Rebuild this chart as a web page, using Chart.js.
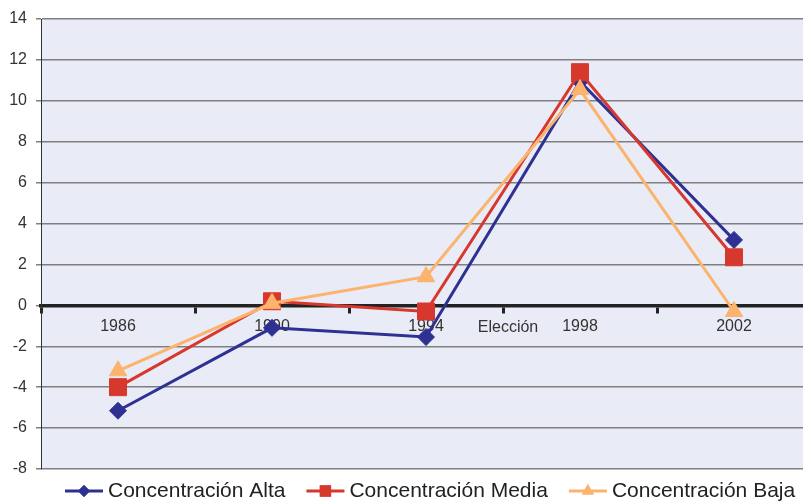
<!DOCTYPE html>
<html>
<head>
<meta charset="utf-8">
<script src="https://cdn.jsdelivr.net/npm/chart.js@4/dist/chart.umd.min.js"></script>
<style>
  html, body { margin: 0; padding: 0; overflow: hidden; background: #fff; width: 803px; height: 502px; }
  #wrap { width: 824px; height: 502px; overflow: visible; }
  canvas { display: block; width: 824px; height: 502px; }
</style>
</head>
<body>
<div id="wrap"><canvas id="chart" width="824" height="502"></canvas></div>
<script>
// Election years (category axis) and the axis caption shown between 1994 and 1998
const categories = ['1986', '1990', '1994', '1998', '2002'];
const axisCaption = 'Elección';

// Value axis range
const yMin = -8;
const yMax = 14;
const yStep = 2;

// Series values per election
const seriesNames = ['Concentración Alta', 'Concentración Media', 'Concentración Baja'];
const altaValues  = [-5.15, -1.1, -1.55, 10.95, 3.2];
const mediaValues = [-4.0, 0.2, -0.3, 11.4, 2.35];
const bajaValues  = [-3.2, 0.1, 1.4, 10.55, -0.3];

const FONT = '"Liberation Sans", Arial, Helvetica, sans-serif';
const colors = { alta: '#2e3192', media: '#d7382d', baja: '#fbb36d' };

// Lavender plot background
const plotBackground = {
  id: 'plotBackground',
  beforeDraw(chart) {
    const { ctx, chartArea: a } = chart;
    ctx.save();
    ctx.fillStyle = '#e9ecf6';
    ctx.fillRect(a.left, a.top, a.right - a.left, a.bottom - a.top);
    ctx.restore();
  }
};

// Axis caption drawn in line with the category labels
const axisCaptionPlugin = {
  id: 'axisCaption',
  afterDraw(chart) {
    const { ctx } = chart;
    const x = chart.scales.x, y = chart.scales.y;
    const cx = (x.getPixelForValue(2) + x.getPixelForValue(3)) / 2 + 5;
    const cy = y.getPixelForValue(0) + 22;
    ctx.save();
    ctx.font = '16px ' + FONT;
    ctx.fillStyle = '#333';
    ctx.textAlign = 'center';
    ctx.textBaseline = 'middle';
    ctx.fillText(axisCaption, cx, cy);
    ctx.restore();
  }
};

// Bottom legend: a short line with the series marker, then the name
const lineLegend = {
  id: 'lineLegend',
  afterDraw(chart) {
    const { ctx } = chart;
    const y = 491;
    let x = 65;
    ctx.save();
    ctx.font = '21px ' + FONT;
    ctx.textBaseline = 'middle';
    chart.data.datasets.slice().sort((p, q) => p.legendIndex - q.legendIndex).forEach(ds => {
      ctx.strokeStyle = ds.borderColor;
      ctx.lineWidth = 3;
      ctx.beginPath();
      ctx.moveTo(x, y);
      ctx.lineTo(x + 38, y);
      ctx.stroke();
      ctx.fillStyle = ds.backgroundColor;
      Chart.helpers.drawPoint(ctx, {
        pointStyle: ds.pointStyle,
        radius: ds.legendRadius,
        rotation: 0,
        borderWidth: 0
      }, x + 19, y);
      ctx.fill();
      ctx.fillStyle = '#222';
      ctx.fillText(ds.label, x + 43, y);
      x += 43 + ctx.measureText(ds.label).width + 21;
    });
    ctx.restore();
  }
};

function series(name, values, color, style, radius, legendRadius, legendIndex, order) {
  return {
    label: name,
    data: values,
    borderColor: color,
    backgroundColor: color,
    borderWidth: 3,
    pointStyle: style,
    pointRadius: radius,
    pointHoverRadius: radius,
    pointBorderWidth: 1,
    pointBorderColor: color,
    pointBackgroundColor: color,
    tension: 0,
    legendRadius,
    legendIndex,
    order
  };
}

new Chart(document.getElementById('chart'), {
  type: 'line',
  data: {
    labels: categories,
    datasets: [
      series(seriesNames[2], bajaValues, colors.baja, 'triangle', 10, 7, 2, 0),
      series(seriesNames[1], mediaValues, colors.media, 'rect', 12, 8, 1, 1),
      series(seriesNames[0], altaValues, colors.alta, 'rectRot', 8.5, 6, 0, 2)
    ]
  },
  options: {
    responsive: false,
    animation: false,
    layout: { padding: { top: 19, bottom: 33, left: 0, right: 0 } },
    plugins: {
      legend: { display: false },
      tooltip: { enabled: false }
    },
    scales: {
      x: {
        type: 'category',
        position: { y: 0 },
        offset: true,
        afterFit(scale) { scale.paddingLeft = 0; scale.paddingRight = 0; },
        grid: {
          display: true,
          offset: true,
          drawOnChartArea: false,
          drawTicks: true,
          tickLength: 6,
          tickWidth: 3,
          tickColor: '#222'
        },
        border: { display: true, color: '#222', width: 3.5 },
        ticks: {
          color: '#333',
          font: { family: FONT, size: 16 },
          padding: 6,
          maxRotation: 0
        }
      },
      y: {
        min: yMin,
        max: yMax,
        afterFit(scale) { scale.width = 41; },
        grid: {
          color: '#7f7f7f',
          lineWidth: 1.5,
          drawTicks: true,
          tickLength: 5,
          tickColor: '#7f7f7f'
        },
        border: { display: true, color: '#333', width: 1 },
        ticks: {
          stepSize: yStep,
          color: '#333',
          font: { family: FONT, size: 16 },
          padding: 9
        }
      }
    }
  },
  plugins: [plotBackground, axisCaptionPlugin, lineLegend]
});
</script>
</body>
</html>
